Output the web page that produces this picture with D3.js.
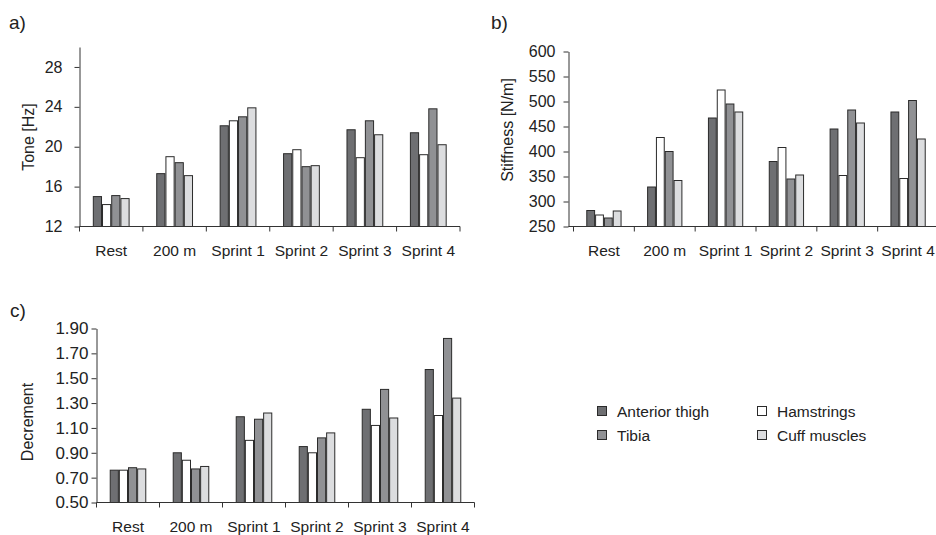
<!DOCTYPE html>
<html>
<head>
<meta charset="utf-8">
<script src="https://cdn.jsdelivr.net/npm/d3@7"></script>
<style>
  html, body { margin: 0; padding: 0; background: #fff; }
  svg { display: block; }
  svg text { font-family: "Liberation Sans", Arial, sans-serif; }
</style>
</head>
<body>
<div id="chart"></div>
<script>
// categories and series
const categories = ['Rest', '200 m', 'Sprint 1', 'Sprint 2', 'Sprint 3', 'Sprint 4'];
const seriesNames = ['Anterior thigh', 'Hamstrings', 'Tibia', 'Cuff muscles'];

// a) tone [Hz], one array per muscle
const toneAnterior = [15.0, 17.3, 22.1, 19.3, 21.7, 21.4];
const toneHamstrings = [14.2, 19.0, 22.6, 19.7, 18.9, 19.2];
const toneTibia = [15.1, 18.4, 23.0, 18.0, 22.6, 23.8];
const toneCuff = [14.8, 17.1, 23.9, 18.1, 21.2, 20.2];
const toneTicks = [12, 16, 20, 24, 28];

// b) stiffness [N/m]
const stiffAnterior = [282, 329, 467, 380, 445, 479];
const stiffHamstrings = [273, 428, 523, 408, 352, 346];
const stiffTibia = [267, 400, 495, 345, 483, 502];
const stiffCuff = [281, 342, 479, 353, 457, 425];
const stiffTicks = [250, 300, 350, 400, 450, 500, 550, 600];

// c) decrement
const decAnterior = [0.76, 0.90, 1.19, 0.95, 1.25, 1.57];
const decHamstrings = [0.76, 0.84, 1.00, 0.90, 1.12, 1.20];
const decTibia = [0.78, 0.77, 1.17, 1.02, 1.41, 1.82];
const decCuff = [0.77, 0.79, 1.22, 1.06, 1.18, 1.34];
const decTicks = [0.5, 0.7, 0.9, 1.1, 1.3, 1.5, 1.7, 1.9];

const colors = ['#6e6f72', '#ffffff', '#909194', '#dcdddf'];
const axisColor = '#333';
const fontSize = 15.5;

const svg = d3.select('#chart').append('svg')
    .attr('width', 936)
    .attr('height', 535);

const color = d3.scaleOrdinal().domain(seriesNames).range(colors);

function drawPanel(p) {
    const g = svg.append('g');

    let x = d3.scaleBand()
        .domain(categories)
        .range([p.x0, p.x1]);

    // bars sit in the middle ~58% of each band
    let x1 = d3.scaleBand()
        .domain(seriesNames)
        .range([x.bandwidth() * 0.21, x.bandwidth() * 0.79]);

    let y = d3.scaleLinear()
        .domain(p.domain)
        .range([p.yBottom, p.yTop]);

    const rows = categories.map((c, i) => ({
        cat: c,
        vals: seriesNames.map((s, j) => ({ s: s, v: p.series[j][i] }))
    }));

    g.append('g')
        .selectAll('g').data(rows).enter().append('g')
        .attr('transform', d => `translate(${x(d.cat)},0)`)
        .selectAll('rect').data(d => d.vals).enter().append('rect')
        .attr('x', d => x1(d.s) + 0.5)
        .attr('y', d => y(d.v))
        .attr('width', x1.bandwidth() - 1)
        .attr('height', d => y(p.domain[0]) - y(d.v))
        .attr('fill', d => color(d.s))
        .attr('stroke', '#2b2b2b')
        .attr('stroke-width', 1);

    // y axis
    const yAxis = g.append('g')
        .attr('transform', `translate(${p.yAxisX},0)`)
        .call(d3.axisLeft(y).tickValues(p.ticks).tickFormat(p.fmt)
            .tickSize(5).tickSizeOuter(0).tickPadding(p.tickPad));
    yAxis.select('.domain').attr('stroke', axisColor);
    yAxis.selectAll('.tick line').attr('stroke', axisColor);
    yAxis.selectAll('.tick text')
        .attr('fill', '#222')
        .attr('font-family', null)
        .style('font-size', p.tickFont + 'px');

    // x axis: line with ticks at band boundaries, labels under bands
    const bounds = categories.map(c => x(c)).concat([x.range()[1]]);
    g.append('line')
        .attr('x1', p.yAxisX).attr('x2', x.range()[1])
        .attr('y1', p.yBottom).attr('y2', p.yBottom)
        .attr('stroke', axisColor);
    g.append('g').selectAll('line').data(bounds).enter().append('line')
        .attr('x1', d => d).attr('x2', d => d)
        .attr('y1', p.yBottom).attr('y2', p.yBottom + 5)
        .attr('stroke', axisColor);
    g.append('g').selectAll('text').data(categories).enter().append('text')
        .attr('x', d => x(d) + x.bandwidth() / 2)
        .attr('y', p.yBottom + 29)
        .attr('text-anchor', 'middle')
        .attr('fill', '#222')
        .style('font-size', fontSize + 'px')
        .text(d => d);

    // axis title
    g.append('text')
        .attr('transform', `translate(${p.titleX},${p.titleY}) rotate(-90)`)
        .attr('text-anchor', 'middle')
        .attr('dy', '0.35em')
        .attr('fill', '#222')
        .style('font-size', '16px')
        .text(p.title);

    // panel letter
    g.append('text')
        .attr('x', p.letterX).attr('y', p.letterY)
        .attr('fill', '#222')
        .style('font-size', '19px')
        .text(p.letter);
}

drawPanel({
    letter: 'a)', letterX: 9, letterY: 29,
    series: [toneAnterior, toneHamstrings, toneTibia, toneCuff],
    domain: [12, 30], ticks: toneTicks, fmt: d3.format('d'),
    x0: 79.5, x1: 460, yAxisX: 79.5, yTop: 47, yBottom: 226.5, tickPad: 12, tickFont: 16,
    title: 'Tone [Hz]', titleX: 28, titleY: 137
});

drawPanel({
    letter: 'b)', letterX: 491, letterY: 29,
    series: [stiffAnterior, stiffHamstrings, stiffTibia, stiffCuff],
    domain: [250, 600], ticks: stiffTicks, fmt: d3.format('d'),
    x0: 573.5, x1: 938.5, yAxisX: 568.5, yTop: 51.5, yBottom: 226.5, tickPad: 8, tickFont: 16,
    title: 'Stiffness [N/m]', titleX: 507, titleY: 130
});

drawPanel({
    letter: 'c)', letterX: 10, letterY: 317,
    series: [decAnterior, decHamstrings, decTibia, decCuff],
    domain: [0.5, 1.9], ticks: decTicks, fmt: d3.format('.2f'),
    x0: 96.5, x1: 474.5, yAxisX: 96.5, yTop: 328.5, yBottom: 502.5, tickPad: 3, tickFont: 17,
    title: 'Decrement', titleX: 27, titleY: 422
});

// legend, two columns
const legendItems = [
    { name: 'Anterior thigh', col: 0, row: 0 },
    { name: 'Tibia', col: 0, row: 1 },
    { name: 'Hamstrings', col: 1, row: 0 },
    { name: 'Cuff muscles', col: 1, row: 1 }
];
const legend = svg.append('g').attr('transform', 'translate(597,406)');
const li = legend.selectAll('g').data(legendItems).enter().append('g')
    .attr('transform', d => `translate(${d.col * 160},${d.row * 24})`);
li.append('rect')
    .attr('x', 0.5).attr('y', 0.5)
    .attr('width', 9).attr('height', 9)
    .attr('fill', d => color(d.name))
    .attr('stroke', '#2b2b2b');
li.append('text')
    .attr('x', 20).attr('y', 10.5)
    .attr('fill', '#222')
    .style('font-size', '15.5px')
    .text(d => d.name);
</script>
</body>
</html>
